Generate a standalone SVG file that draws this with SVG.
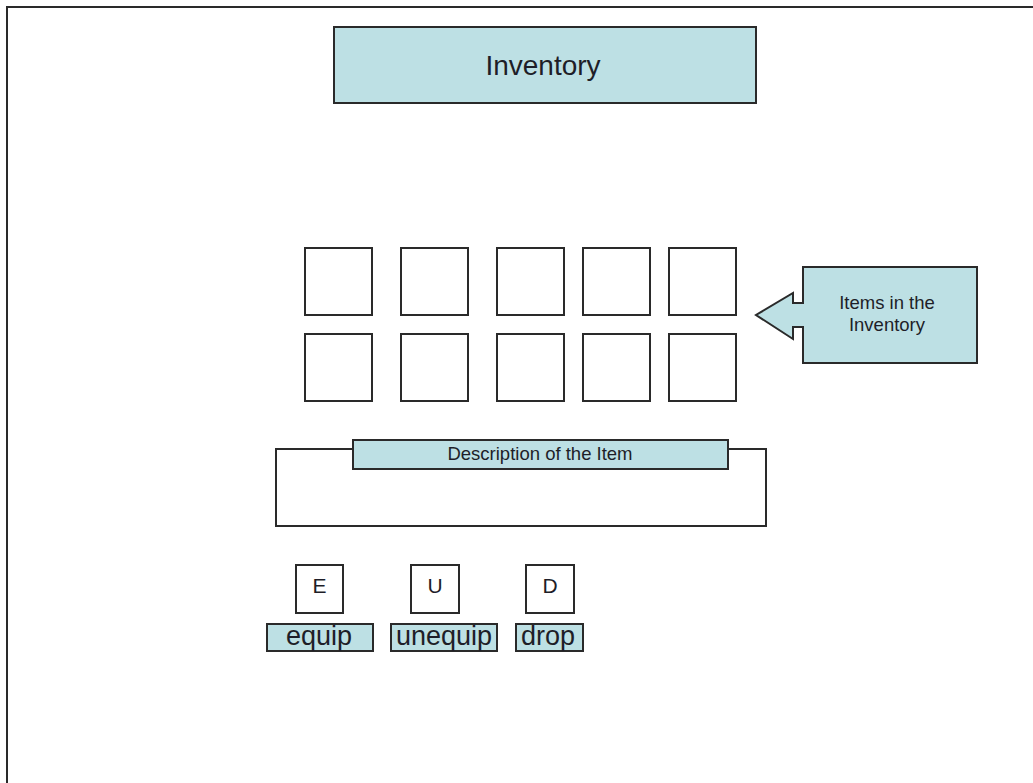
<svg xmlns="http://www.w3.org/2000/svg" width="1033" height="783" viewBox="0 0 1033 783">
<style>
.fill{fill:#bde0e4;stroke:#2a2a2a;stroke-width:2}
.slot{fill:#ffffff;stroke:#2a2a2a;stroke-width:2}
.t{font-family:"Liberation Sans",Arial,sans-serif;fill:#1e1e28;text-anchor:middle}
</style>
<rect x="0" y="0" width="1033" height="783" fill="#ffffff"/>
<path d="M7,783 V7 H1033" fill="none" stroke="#2a2a2a" stroke-width="2"/>
<g id="title">
<rect class="fill" x="334" y="27" width="422" height="76"/>
<text class="t" x="543" y="75" font-size="28">Inventory</text>
</g>
<g id="slots">
<rect class="slot" x="305" y="248" width="67" height="67"/>
<rect class="slot" x="401" y="248" width="67" height="67"/>
<rect class="slot" x="497" y="248" width="67" height="67"/>
<rect class="slot" x="583" y="248" width="67" height="67"/>
<rect class="slot" x="669" y="248" width="67" height="67"/>
<rect class="slot" x="305" y="334" width="67" height="67"/>
<rect class="slot" x="401" y="334" width="67" height="67"/>
<rect class="slot" x="497" y="334" width="67" height="67"/>
<rect class="slot" x="583" y="334" width="67" height="67"/>
<rect class="slot" x="669" y="334" width="67" height="67"/>
</g>
<g id="callout">
<polygon class="fill" points="803,267 977,267 977,363 803,363 803,327 793,327 793,339 756,315 793,293 793,303 803,303"/>
<text class="t" x="887" y="309" font-size="18.5">Items in the</text>
<text class="t" x="887" y="331" font-size="18.5">Inventory</text>
</g>
<g id="description">
<rect x="276" y="449" width="490" height="77" fill="#ffffff" stroke="#2a2a2a" stroke-width="2"/>
<rect class="fill" x="353" y="440" width="375" height="29"/>
<text class="t" x="540" y="460" font-size="18.5">Description of the Item</text>
</g>
<g id="key-e">
<rect class="slot" x="296" y="565" width="47" height="48"/>
<text class="t" x="319.5" y="593" font-size="21">E</text>
</g>
<g id="key-u">
<rect class="slot" x="411" y="565" width="48" height="48"/>
<text class="t" x="435" y="593" font-size="21">U</text>
</g>
<g id="key-d">
<rect class="slot" x="526" y="565" width="48" height="48"/>
<text class="t" x="550" y="593" font-size="21">D</text>
</g>
<g id="btn-equip">
<rect class="fill" x="267" y="624" width="106" height="27"/>
<text class="t" x="319" y="645" font-size="27">equip</text>
</g>
<g id="btn-unequip">
<rect class="fill" x="391" y="624" width="106" height="27"/>
<text class="t" x="444" y="645" font-size="27">unequip</text>
</g>
<g id="btn-drop">
<rect class="fill" x="516" y="624" width="67" height="27"/>
<text class="t" x="548" y="645" font-size="27">drop</text>
</g>
<g id="connectors"></g>
</svg>
